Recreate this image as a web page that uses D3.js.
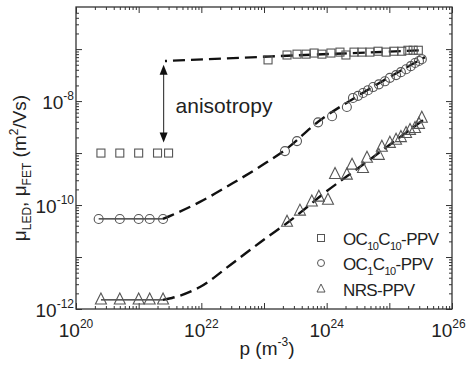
<!DOCTYPE html>
<html>
<head>
<meta charset="utf-8">
<script src="https://cdn.jsdelivr.net/npm/d3@7/dist/d3.min.js"></script>
<style>
  html, body { margin: 0; padding: 0; background: #fff; }
  svg { display: block; }
  text { font-family: "Liberation Sans", Arial, Helvetica, sans-serif; fill: #222; }
</style>
</head>
<body>
<svg id="chart" width="467" height="367"></svg>
<script>
// ---- data: hole density p (m^-3) and mobility mu (m^2/Vs) ----
// OC10C10-PPV: LED (low density) and FET (high density) points
const sqLowP  = [2.5e20, 5.0e20, 1.0e21, 2.0e21, 3.0e21];
const sqLowMu = [1.0e-9, 1.0e-9, 1.0e-9, 1.0e-9, 1.0e-9];
const sqHighP  = [1.16e23, 2.33e23, 3.36e23, 4.7e23, 6.3e23, 8.4e23, 1.17e24, 1.63e24, 2.03e24,
                  2.73e24, 3.66e24, 4.9e24, 6.6e24, 8.9e24, 1.18e25, 1.58e25, 1.98e25, 2.4e25, 2.9e25];
const sqHighMu = [6.2e-8, 7.7e-8, 8.0e-8, 8.0e-8, 8.4e-8, 8.0e-8, 8.4e-8, 8.75e-8, 7.7e-8,
                  8.75e-8, 8.75e-8, 8.75e-8, 9.1e-8, 8.75e-8, 9.1e-8, 9.1e-8, 9.5e-8, 9.5e-8, 9.5e-8];
const sqFitP  = [2.63e21, 9.5e22, 3.3e25];
const sqFitMu = [5.9e-8, 7.1e-8, 9.5e-8];

// OC1C10-PPV
const ciLowP  = [2.3e20, 5.0e20, 1.0e21, 1.5e21, 2.45e21];
const ciLowMu = [5.4e-11, 5.4e-11, 5.4e-11, 5.4e-11, 5.4e-11];
const ciHighP  = [2.16e23, 3.36e23, 7.3e23, 1.22e24, 2.1e24, 2.63e24, 3.16e24, 3.8e24, 4.57e24, 5.5e24,
                  6.8e24, 8.5e24, 1.02e25, 1.28e25, 1.53e25, 1.85e25, 2.2e25, 2.57e25, 2.97e25, 3.3e25];
const ciHighMu = [1.09e-9, 1.7e-9, 3.9e-9, 5.1e-9, 7.7e-9, 1.15e-8, 1.26e-8, 1.43e-8, 1.62e-8, 1.86e-8,
                  2.1e-8, 2.4e-8, 2.8e-8, 3.16e-8, 3.6e-8, 4.1e-8, 4.7e-8, 5.4e-8, 5.9e-8, 6.4e-8];
const ciFitP  = [2.44e21, 3.4e21, 9.5e21, 3.2e22, 1.12e23, 2.16e23, 7.3e23, 3.16e24, 3.7e25];
const ciFitMu = [5.4e-11, 6.4e-11, 1.15e-10, 2.65e-10, 6.7e-10, 1.14e-9, 4.0e-9, 1.26e-8, 7.0e-8];

// NRS-PPV
const trLowP  = [2.5e20, 5.0e20, 1.0e21, 1.5e21, 2.45e21];
const trLowMu = [1.5e-12, 1.5e-12, 1.5e-12, 1.5e-12, 1.5e-12];
const trHighP  = [2.33e23, 3.75e23, 5.8e23, 7.5e23, 1.05e24, 1.36e24, 2.1e24, 2.54e24, 3.8e24, 4.4e24,
                  6.8e24, 7.6e24, 1.02e25, 1.28e25, 1.53e25, 1.85e25, 2.14e25, 2.57e25, 2.97e25, 3.3e25];
const trHighMu = [4.7e-11, 7.7e-11, 1.15e-10, 1.43e-10, 1.25e-10, 3.9e-10, 3.8e-10, 5.9e-10, 5.1e-10, 8.0e-10,
                  9.1e-10, 1.3e-9, 1.55e-9, 1.78e-9, 2.0e-9, 2.4e-9, 2.75e-9, 3.0e-9, 3.6e-9, 4.7e-9];
const trFitP  = [2.44e21, 3.4e21, 9.5e21, 3.2e22, 1.12e23, 2.33e23, 1.01e24, 3.16e24, 3.44e25];
const trFitMu = [1.5e-12, 1.63e-12, 2.65e-12, 7.7e-12, 2.4e-11, 4.5e-11, 1.86e-10, 5.1e-10, 4.3e-9];

const seriesNames = ["OC10C10-PPV", "OC1C10-PPV", "NRS-PPV"];
const xTickExps = [20, 22, 24, 26];
const yTickExps = [-12, -10, -8];

// anisotropy arrow: p position and the two mobility ends
const arrowP = 2.5e21;
const arrowMu = [5.0e-8, 1.6e-9];

// ---- scales ----
const W = 467;
const svg = d3.select("#chart");
const x = d3.scaleLog().domain([1e20, 1e26]).range([76, 452]);
const y = d3.scaleLog().domain([1e-12, Math.pow(10, -6.19)]).range([309, 7]);
const [x0, x1] = x.range();
const [y0, y1] = y.range();

const zip = (a, b) => a.map((v, i) => [v, b[i]]);

// ---- log ticks: majors at each decade, minors at 2..9 ----
function logTicks(lo, hi) {
  const major = [], minor = [];
  for (let e = lo; e <= hi; e++) {
    major.push(Math.pow(10, e));
    if (e < hi) for (let m = 2; m <= 9; m++) minor.push(m * Math.pow(10, e));
  }
  return { major, minor };
}
const xt = logTicks(20, 26);
const yt = logTicks(-12, -7);
const yMax = y.domain()[1];
yt.minor.push(2e-7, 3e-7, 4e-7, 5e-7);
yt.minor = yt.minor.filter(v => v <= yMax);

const axStroke = "#333";
function drawAxis(axisFn, scale, ticks, len, transform) {
  const g = svg.append("g").attr("transform", transform);
  g.call(axisFn(scale).tickValues(ticks).tickSize(len).tickFormat(""));
  g.select(".domain").remove();
  g.selectAll("line").attr("stroke", axStroke).attr("stroke-width", 1);
}
// inward ticks (negative tick size)
drawAxis(d3.axisBottom, x, xt.major, -6, `translate(0,${y0})`);
drawAxis(d3.axisBottom, x, xt.minor, -3, `translate(0,${y0})`);
drawAxis(d3.axisTop, x, xt.major, -6, `translate(0,${y1})`);
drawAxis(d3.axisTop, x, xt.minor, -3, `translate(0,${y1})`);
drawAxis(d3.axisLeft, y, yt.major, -6, `translate(${x0},0)`);
drawAxis(d3.axisLeft, y, yt.minor, -3, `translate(${x0},0)`);
drawAxis(d3.axisRight, y, yt.major, -6, `translate(${x1},0)`);
drawAxis(d3.axisRight, y, yt.minor, -3, `translate(${x1},0)`);

svg.append("rect")
  .attr("x", x0).attr("y", y1)
  .attr("width", x1 - x0).attr("height", y0 - y1)
  .attr("fill", "none").attr("stroke", axStroke).attr("stroke-width", 1.3);

// ---- tick labels with superscript exponents ----
svg.append("g").selectAll("text").data(xTickExps).join("text")
  .attr("x", d => x(Math.pow(10, d)))
  .attr("y", y0 + 28)
  .attr("text-anchor", "middle")
  .attr("font-size", 19)
  .each(function (d) {
    const t = d3.select(this);
    t.append("tspan").text("10");
    t.append("tspan").attr("font-size", 12).attr("dy", -9).text(d);
    // keep the last label inside the page
    const bb = this.getBBox();
    if (bb.x + bb.width > W - 1) t.attr("x", +t.attr("x") - (bb.x + bb.width - (W - 1)));
  });

svg.append("g").selectAll("text").data(yTickExps).join("text")
  .attr("x", x0 - 2)
  .attr("y", d => y(Math.pow(10, d)) + 8)
  .attr("text-anchor", "end")
  .attr("font-size", 19)
  .each(function (d) {
    const t = d3.select(this);
    t.append("tspan").text("10");
    t.append("tspan").attr("font-size", 12).attr("dy", -9).text("-" + Math.abs(d));
  });

// ---- axis titles ----
const xTitle = svg.append("text")
  .attr("x", (x0 + x1) / 2 + 3).attr("y", 355)
  .attr("text-anchor", "middle").attr("font-size", 19);
xTitle.append("tspan").text("p (m");
xTitle.append("tspan").attr("font-size", 12).attr("dy", -9).text("-3");
xTitle.append("tspan").attr("dy", 9).text(")");

const yTitle = svg.append("text")
  .attr("transform", "translate(26,168) rotate(-90)")
  .attr("text-anchor", "middle").attr("font-size", 19);
yTitle.append("tspan").text("\u03bc");
yTitle.append("tspan").attr("font-size", 12).attr("dy", 5).text("LED");
yTitle.append("tspan").attr("dy", -5).text(", \u03bc");
yTitle.append("tspan").attr("font-size", 12).attr("dy", 5).text("FET");
yTitle.append("tspan").attr("dy", -5).text(" (m");
yTitle.append("tspan").attr("font-size", 12).attr("dy", -8).text("2");
yTitle.append("tspan").attr("dy", 8).text("/Vs)");

// ---- fit curves (dashed) ----
const line = d3.line().x(d => x(d[0])).y(d => y(d[1])).curve(d3.curveMonotoneX);
function dashed(pts, offset) {
  svg.append("path").datum(pts).attr("d", line)
    .attr("fill", "none").attr("stroke", "#111")
    .attr("stroke-width", 2.4)
    .attr("stroke-dasharray", "12,6")
    .attr("stroke-dashoffset", offset || 0);
}
dashed(zip(sqFitP, sqFitMu), 10);
dashed(zip(ciFitP, ciFitMu), 0);
dashed(zip(trFitP, trFitMu), 0);

// solid connectors across the low-density LED points
function solid(pts) {
  svg.append("path").datum(pts).attr("d", d3.line().x(d => x(d[0])).y(d => y(d[1])))
    .attr("fill", "none").attr("stroke", "#222").attr("stroke-width", 1.3);
}
solid(zip(ciLowP, ciLowMu));
solid(zip(trLowP, trLowMu));

// ---- markers ----
const mStroke = "#555";
function squares(pts, s) {
  svg.append("g").selectAll("rect").data(pts).join("rect")
    .attr("x", d => x(d[0]) - s / 2).attr("y", d => y(d[1]) - s / 2)
    .attr("width", s).attr("height", s)
    .attr("fill", "none").attr("stroke", mStroke).attr("stroke-width", 1.1);
}
function circles(pts, r) {
  svg.append("g").selectAll("circle").data(pts).join("circle")
    .attr("cx", d => x(d[0])).attr("cy", d => y(d[1])).attr("r", r)
    .attr("fill", "none").attr("stroke", mStroke).attr("stroke-width", 1.1);
}
const triPath = s => `M0,${-s * 0.62}L${s / 2},${s * 0.38}L${-s / 2},${s * 0.38}Z`;
function triangles(pts, s) {
  svg.append("g").selectAll("path").data(pts).join("path")
    .attr("transform", d => `translate(${x(d[0])},${y(d[1])})`)
    .attr("d", triPath(s))
    .attr("fill", "none").attr("stroke", mStroke).attr("stroke-width", 1.1);
}
squares(zip(sqLowP, sqLowMu), 8);
squares(zip(sqHighP, sqHighMu), 8);
circles(zip(ciLowP, ciLowMu), 4.5);
circles(zip(ciHighP, ciHighMu), 4.5);
triangles(zip(trLowP, trLowMu), 11);
triangles(zip(trHighP, trHighMu), 11);

// ---- anisotropy arrow ----
const ax = x(arrowP), ayTop = y(arrowMu[0]), ayBot = y(arrowMu[1]);
svg.append("line")
  .attr("x1", ax).attr("x2", ax).attr("y1", ayTop + 8).attr("y2", ayBot - 8)
  .attr("stroke", "#444").attr("stroke-width", 1.2);
svg.append("path")
  .attr("d", `M${ax},${ayTop}L${ax + 4},${ayTop + 10}L${ax - 4},${ayTop + 10}Z`)
  .attr("fill", "#111");
svg.append("path")
  .attr("d", `M${ax},${ayBot}L${ax + 4},${ayBot - 10}L${ax - 4},${ayBot - 10}Z`)
  .attr("fill", "#111");
svg.append("text")
  .attr("x", ax + 12).attr("y", 113)
  .attr("font-size", 21).text("anisotropy");

// ---- legend ----
const legendRows = [
  { name: seriesNames[0], parts: [["OC", 0], ["10", 1], ["C", 0], ["10", 1], ["-PPV", 0]] },
  { name: seriesNames[1], parts: [["OC", 0], ["1", 1], ["C", 0], ["10", 1], ["-PPV", 0]] },
  { name: seriesNames[2], parts: [["NRS-PPV", 0]] }
];
const legY = [238, 263, 289];
const legMx = 321, legTx = 343;
legendRows.forEach((row, i) => {
  const cy = legY[i];
  if (i === 0) {
    svg.append("rect").attr("x", legMx - 3.5).attr("y", cy - 3.5).attr("width", 7).attr("height", 7)
      .attr("fill", "none").attr("stroke", mStroke).attr("stroke-width", 1);
  } else if (i === 1) {
    svg.append("circle").attr("cx", legMx).attr("cy", cy).attr("r", 3.5)
      .attr("fill", "none").attr("stroke", mStroke).attr("stroke-width", 1);
  } else {
    svg.append("path").attr("transform", `translate(${legMx},${cy})`).attr("d", triPath(8))
      .attr("fill", "none").attr("stroke", mStroke).attr("stroke-width", 1);
  }
  const t = svg.append("text").attr("x", legTx).attr("y", cy + 7).attr("font-size", 17)
    .attr("letter-spacing", -0.6);
  let sub = 0;
  row.parts.forEach(([s, isSub]) => {
    const dy = isSub && !sub ? 5 : (!isSub && sub ? -5 : 0);
    t.append("tspan").attr("dy", dy).attr("font-size", isSub ? 11 : 17).text(s);
    sub = isSub;
  });
});
</script>
</body>
</html>
